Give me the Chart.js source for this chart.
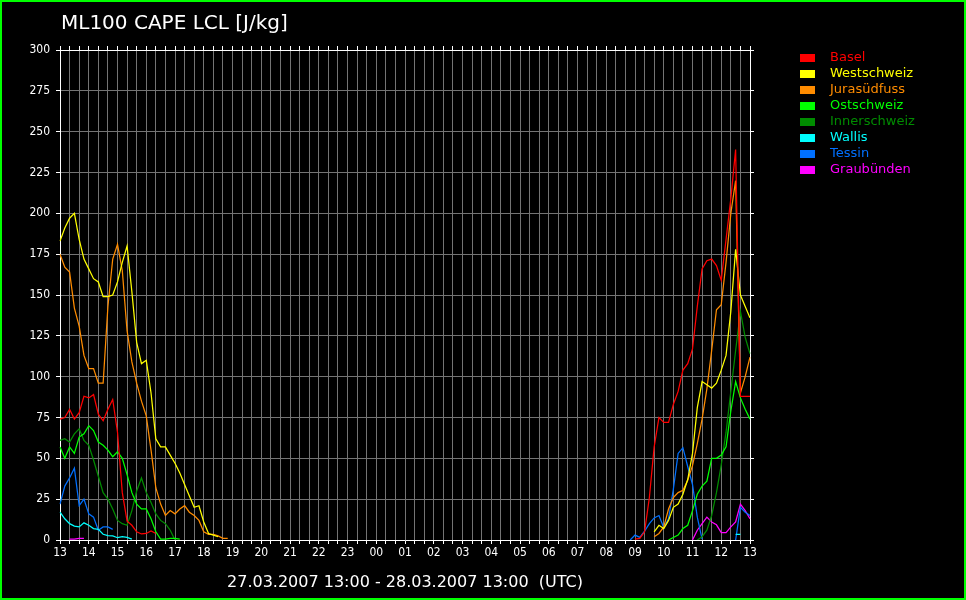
<!DOCTYPE html>
<html>
<head>
<meta charset="utf-8">
<title>ML100 CAPE LCL</title>
<script src="https://cdn.jsdelivr.net/npm/chart.js@4.4.1/dist/chart.umd.min.js"></script>
<style>
  html, body { margin: 0; padding: 0; background: #000; }
  canvas { display: block; }
</style>
</head>
<body>
<canvas id="cape-chart" width="966" height="600"></canvas>
<script>
const titleText = "ML100 CAPE LCL [J/kg]";
const periodText = "27.03.2007 13:00 - 28.03.2007 13:00  (UTC)";
const hourLabels = ["13", "14", "15", "16", "17", "18", "19", "20", "21", "22", "23", "00",
  "01", "02", "03", "04", "05", "06", "07", "08", "09", "10", "11", "12", "13"];

const regions = ["Basel", "Westschweiz", "Jurasüdfuss", "Ostschweiz", "Innerschweiz", "Wallis", "Tessin", "Graubünden"];
const regionColors = ["#ff0000", "#ffff00", "#ff8c00", "#00ff00", "#008c00", "#00ffff", "#0070ff", "#ff00ff"];

// 10 minute values, 27.03. from 13:00
const baselEve = [74, 75, 80, 74, 78, 88, 87, 89, 77, 73, 80, 86, 66, 29, 11.5, 9, 5, 3.7, 4, 5.5, 4];
const westEve = [183, 191, 197, 200, 184, 172, 166, 160, 158, 149, 149, 150, 158, 170, 180, 152, 121, 108, 110, 90,
  62, 57, 57, 52, 47, 41, 34, 27, 20, 21, 11, 4, 3, 2];
const juraEve = [175, 167, 164, 142, 131, 113, 105, 105, 96, 96, 143, 172, 181, 165, 128, 109, 96, 85, 76, 55,
  32, 22, 15, 18, 16, 19, 21, 17, 15, 12, 5, 3.5, 3.5, 2.5, 1, 1];
const ostEve = [57, 50, 57, 53, 63, 65, 70, 67, 60, 58, 55, 51, 54, 50, 40, 29, 22, 19, 19, 13, 5, 0.5, 0.5, 1, 1, 0.5];
const innerEve = [61, 62, 60, 65, 68, 61, 58, 49, 39, 29, 25, 19, 12, 10, 9, 18, 30, 38, 29, 23, 16, 12, 10, 6, 0];
const wallisEve = [17, 13, 10, 8.5, 8, 10.5, 9, 7, 6.5, 3.5, 2.7, 2.5, 1.4, 2, 1.6, 0.5];
const tessinEve = [22, 33, 38, 44, 21, 25, 16, 14, 6, 8, 8, 6.5];
const grauEve = [null, null, 0.5, 0.5, 1, 1];

// 10 minute values, 28.03. from 08:50
const baselMorn = [null, 0.5, 1, 5, 26, 57, 75, 72, 72, 83, 91, 104, 108, 117, 143, 166, 171, 172, 168, 159,
  184, 209, 239, 88, 88, 88];
const westMorn = [null, null, null, null, null, 5, 9, 7, 12, 20, 22, 28, 37, 53, 81, 97, 95, 93, 96, 104,
  113, 140, 178, 150, 143, 136];
const juraMorn = [null, null, null, null, null, 2, 4, 8, 19, 26, 29, 30.5, 36.5, 45.5, 59, 74, 92.5, 116, 141, 144,
  170, 200, 220, 90, 100, 112];
const ostMorn = [null, null, null, null, null, null, null, null, 0, 1.5, 3, 7, 9, 18, 28, 33, 36, 50, 50, 52,
  57, 79, 97, 87, 80, 74];
const innerMorn = [null, null, null, null, null, null, null, null, null, null, null, null, null, null, 0, 2, 6, 15, 29, 46,
  66, 91, 116, 140, 124, 114];
const wallisMorn = [null, null, null, null, null, null, null, null, null, null, null, null, null, null, null, null, null, null, null, null,
  null, null, 3.5, 3.5];
const tessinMorn = [0, 3, 1.6, 5.5, 10, 13.5, 15, 7.5, 13, 31, 53, 56.5, 45, 34, 14, 0.5, null, null, null, null,
  null, null, 0, 20, 17, 15];
const grauMorn = [null, null, null, null, null, null, null, null, null, null, null, null, null, 0, 6, 10, 14, 11, 9.3, 4.5,
  4.5, 8, 11, 22, 18, 13];

const STEPS = 145; // 24 h in 10 minute steps, both ends
const MORNING_START = 119; // index of 08:50

const buildSeries = (eve, morn) => {
  const series = new Array(STEPS).fill(null);
  eve.forEach((v, i) => (series[i] = v));
  morn.forEach((v, i) => (series[MORNING_START + i] = v));
  return series;
};

const timeLabels = [];
for (let i = 0; i < STEPS; i++) {
  const h = (13 + Math.floor(i / 6)) % 24;
  const m = (i % 6) * 10;
  timeLabels.push(String(h).padStart(2, "0") + ":" + String(m).padStart(2, "0"));
}

const seriesData = [
  buildSeries(baselEve, baselMorn),
  buildSeries(westEve, westMorn),
  buildSeries(juraEve, juraMorn),
  buildSeries(ostEve, ostMorn),
  buildSeries(innerEve, innerMorn),
  buildSeries(wallisEve, wallisMorn),
  buildSeries(tessinEve, tessinMorn),
  buildSeries(grauEve, grauMorn),
];

const GRID = "#747474";
const tickFont = { family: "'DejaVu Sans Condensed', 'DejaVu Sans'", size: 12 };

// black page, title, legend and green frame
const frame = {
  id: "frame",
  beforeDraw(chart) {
    const { ctx, width, height } = chart;
    ctx.save();
    ctx.fillStyle = "#000";
    ctx.fillRect(0, 0, width, height);
    ctx.restore();
  },
  afterDraw(chart) {
    const { ctx, width, height } = chart;
    ctx.save();
    ctx.fillStyle = "#fff";
    ctx.font = "20px 'DejaVu Sans'";
    ctx.textBaseline = "alphabetic";
    ctx.fillText(titleText, 61, 29);

    ctx.font = "13px 'DejaVu Sans'";
    ctx.textBaseline = "middle";
    chart.data.datasets.forEach((ds, k) => {
      const y = 58 + k * 16;
      ctx.fillStyle = ds.borderColor;
      ctx.fillRect(800, y - 4, 15, 8);
      ctx.fillText(ds.label, 830, y);
    });

    ctx.strokeStyle = "#00ff00";
    ctx.lineWidth = 2;
    ctx.strokeRect(1, 1, width - 2, height - 2);
    ctx.restore();
  },
};

const everyOther = (color) => (c) => (c.index % 2 === 0 ? color : "rgba(0,0,0,0)");

new Chart(document.querySelector("#cape-chart"), {
  type: "line",
  data: {
    labels: timeLabels,
    datasets: regions.map((name, k) => ({
      label: name,
      data: seriesData[k],
      borderColor: regionColors[k],
      backgroundColor: regionColors[k],
      borderWidth: 1.25,
      pointRadius: 0,
      tension: 0,
      fill: false,
    })),
  },
  options: {
    responsive: false,
    animation: false,
    devicePixelRatio: 1,
    layout: { padding: 0 },
    plugins: {
      legend: { display: false },
      title: { display: false },
      tooltip: { enabled: false },
    },
    scales: {
      x: {
        position: "bottom",
        afterFit: (s) => { s.height = 60; },
        grid: { color: everyOther(GRID), tickColor: everyOther("#fff"), tickLength: 4 },
        border: { color: "#fff" },
        ticks: {
          autoSkip: false,
          maxRotation: 0,
          padding: 2,
          color: "#fff",
          font: tickFont,
          callback: (v, i) => (i % 6 === 0 ? hourLabels[i / 6] : ""),
        },
        title: {
          display: true,
          text: periodText,
          color: "#fff",
          font: { family: "'DejaVu Sans'", size: 16 },
          padding: { top: 0, bottom: 8 },
        },
      },
      x2: {
        type: "category",
        position: "top",
        afterFit: (s) => { s.height = 50; },
        grid: { drawOnChartArea: false, tickColor: everyOther("#fff"), tickLength: 4 },
        border: { color: "#fff" },
        ticks: { display: false, autoSkip: false },
      },
      y: {
        min: 0,
        max: 300,
        afterFit: (s) => { s.width = 60; },
        grid: {
          color: (c) => (c.tick.value === 300 ? "#fff" : GRID),
          tickColor: "#fff",
          tickLength: 4,
        },
        border: { color: "#fff" },
        ticks: { stepSize: 25, padding: 6, color: "#fff", font: tickFont },
      },
      y2: {
        type: "linear",
        position: "right",
        min: 0,
        max: 300,
        afterFit: (s) => { s.width = 216; },
        grid: { drawOnChartArea: false, tickColor: "#fff", tickLength: 4 },
        border: { color: "#fff" },
        ticks: { display: false, stepSize: 25 },
      },
    },
  },
  plugins: [frame],
});
</script>
</body>
</html>
